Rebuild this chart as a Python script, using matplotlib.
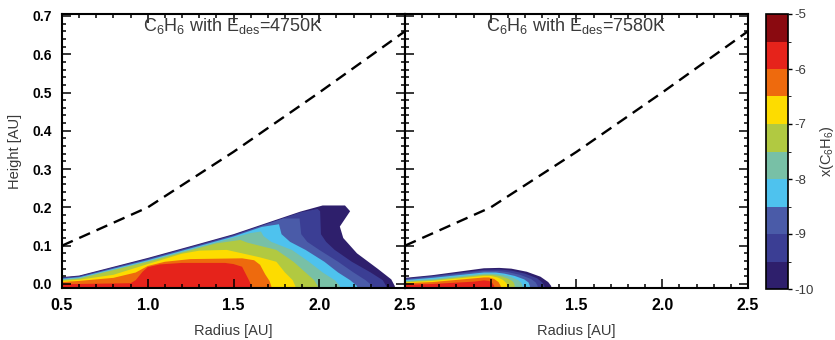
import matplotlib
matplotlib.use('Agg')
import matplotlib.pyplot as plt
from matplotlib.colors import ListedColormap, BoundaryNorm
from matplotlib.cm import ScalarMappable
from matplotlib.ticker import MultipleLocator

plt.rcParams['font.family'] = ['Liberation Sans', 'DejaVu Sans']
plt.rcParams['mathtext.fontset'] = 'custom'
plt.rcParams['mathtext.rm'] = 'Liberation Sans'
plt.rcParams['mathtext.it'] = 'Liberation Sans:italic'
plt.rcParams['axes.unicode_minus'] = False

# abundance levels log x(C6H6), one colour per band
levels = [-10, -9.5, -9, -8.5, -8, -7.5, -7, -6.5, -6, -5.5, -5]
band_colors = ['#2e1f6c', '#3b3e94', '#4a5ba8', '#4ec2ee', '#78c0a6',
               '#b1c941', '#fddc00', '#ee6a0d', '#e6231b', '#8a0a10']

# upper edge of region x >= level (radius, height), left panel E_des=4750K
left_r = [
    [0.5, 0.6, 1.0, 1.3, 1.5, 1.89, 2.02, 2.15, 2.18, 2.12, 2.14, 2.22, 2.34, 2.42, 2.44, 2.45],
    [0.5, 0.6, 1.0, 1.3, 1.5, 1.89, 1.99, 2.005, 2.01, 2.04, 2.09, 2.19, 2.3, 2.37, 2.39, 2.40],
    [0.5, 0.6, 1.0, 1.3, 1.5, 1.79, 1.885, 1.895, 1.93, 2.0, 2.11, 2.2, 2.27, 2.31, 2.32],
    [0.5, 0.6, 1.0, 1.3, 1.5, 1.665, 1.765, 1.78, 1.83, 1.92, 2.03, 2.11, 2.18, 2.22, 2.23],
    [0.5, 0.6, 1.0, 1.3, 1.5, 1.6, 1.66, 1.675, 1.72, 1.84, 1.94, 2.02, 2.09, 2.12, 2.13],
    [0.5, 0.6, 1.0, 1.3, 1.4, 1.54, 1.58, 1.75, 1.85, 1.92, 1.97, 1.99, 2.0],
    [0.5, 0.6, 0.8, 1.0, 1.2, 1.3, 1.46, 1.55, 1.65, 1.75, 1.8, 1.845, 1.86, 1.87],
    [0.5, 0.6, 0.8, 0.93, 1.0, 1.1, 1.25, 1.55, 1.62, 1.655, 1.685, 1.71, 1.72, 1.73],
    [0.5, 0.6, 0.9, 0.93, 0.97, 1.0, 1.07, 1.2, 1.45, 1.5, 1.55, 1.567, 1.59, 1.605, 1.61],
]
left_h = [
    [0.018, 0.022, 0.068, 0.105, 0.13, 0.189, 0.205, 0.205, 0.19, 0.15, 0.12, 0.08, 0.04, 0.012, -0.005, -0.03],
    [0.0165, 0.0205, 0.066, 0.103, 0.128, 0.187, 0.196, 0.19, 0.13, 0.11, 0.089, 0.058, 0.03, 0.01, -0.005, -0.03],
    [0.015, 0.019, 0.064, 0.101, 0.126, 0.171, 0.171, 0.13, 0.11, 0.089, 0.058, 0.03, 0.01, -0.005, -0.03],
    [0.0135, 0.0175, 0.062, 0.099, 0.124, 0.149, 0.156, 0.13, 0.11, 0.089, 0.058, 0.03, 0.01, -0.005, -0.03],
    [0.012, 0.016, 0.06, 0.097, 0.121, 0.133, 0.137, 0.125, 0.11, 0.089, 0.058, 0.03, 0.01, -0.005, -0.03],
    [0.010, 0.014, 0.058, 0.094, 0.106, 0.115, 0.108, 0.089, 0.058, 0.03, 0.01, -0.005, -0.03],
    [0.008, 0.011, 0.024, 0.052, 0.079, 0.087, 0.089, 0.08, 0.07, 0.058, 0.03, 0.01, -0.005, -0.03],
    [0.005, 0.008, 0.016, 0.03, 0.047, 0.058, 0.065, 0.067, 0.062, 0.05, 0.025, 0.008, -0.005, -0.03],
    [0.0, 0.0, 0.002, 0.01, 0.032, 0.044, 0.051, 0.055, 0.055, 0.052, 0.045, 0.03, 0.01, -0.005, -0.03],
]

# right panel E_des=7580K
right_r = [
    [0.5, 0.66, 0.96, 1.05, 1.12, 1.21, 1.29, 1.335, 1.352, 1.36],
    [0.5, 0.66, 0.96, 1.05, 1.12, 1.2, 1.27, 1.3, 1.313, 1.32],
    [0.5, 0.66, 0.96, 1.04, 1.1, 1.17, 1.235, 1.262, 1.273, 1.28],
    [0.5, 0.66, 0.96, 1.03, 1.08, 1.14, 1.195, 1.22, 1.228, 1.235],
    [0.5, 0.66, 0.96, 1.02, 1.07, 1.12, 1.16, 1.178, 1.185, 1.19],
    [0.5, 0.66, 0.96, 1.01, 1.06, 1.1, 1.125, 1.136, 1.14, 1.145],
    [0.5, 0.66, 0.96, 1.0, 1.04, 1.07, 1.09, 1.1, 1.105],
    [0.5, 0.66, 0.96, 0.99, 1.02, 1.045, 1.058, 1.065],
    [0.5, 0.66, 0.9, 0.96, 0.99, 1.01, 1.02, 1.025],
]
right_h = [
    [0.016, 0.023, 0.041, 0.042, 0.040, 0.032, 0.019, 0.005, -0.005, -0.03],
    [0.014, 0.021, 0.037, 0.038, 0.035, 0.027, 0.015, 0.004, -0.005, -0.03],
    [0.012, 0.019, 0.034, 0.034, 0.031, 0.024, 0.013, 0.004, -0.005, -0.03],
    [0.010, 0.016, 0.030, 0.030, 0.027, 0.021, 0.012, 0.004, -0.005, -0.03],
    [0.008, 0.013, 0.027, 0.027, 0.024, 0.018, 0.010, 0.003, -0.005, -0.03],
    [0.006, 0.010, 0.024, 0.024, 0.020, 0.014, 0.008, 0.002, -0.005, -0.03],
    [0.004, 0.008, 0.021, 0.021, 0.017, 0.011, 0.003, -0.005, -0.03],
    [0.002, 0.005, 0.017, 0.017, 0.013, 0.005, -0.005, -0.03],
    [-0.002, 0.0, 0.006, 0.0095, 0.008, 0.002, -0.005, -0.03],
]

# dashed surface line
surf_r = [0.5, 1.0, 1.5, 2.0, 2.5]
surf_h = [0.1, 0.2, 0.345, 0.5, 0.66]

titles = [r'C$_6$H$_6$ with E$_{\rm des}$=4750K', r'C$_6$H$_6$ with E$_{\rm des}$=7580K']
xticks = [0.5, 1.0, 1.5, 2.0, 2.5]
yticks = [0.0, 0.1, 0.2, 0.3, 0.4, 0.5, 0.6, 0.7]
cb_ticks = [-10, -9, -8, -7, -6, -5]

label_col = '#3a3a3a'

fig = plt.figure(figsize=(8.35, 3.4), dpi=100)
ax1 = fig.add_axes([62/835, 52/340, 343/835, 274/340])
ax2 = fig.add_axes([405/835, 52/340, 343/835, 274/340])
cax = fig.add_axes([766/835, 51/340, 22/835, 275/340])


def draw_panel(ax, rs, hs, title, xlabels):
    for k in range(len(rs)):
        xs = [0.4] + rs[k] + [0.4]
        ys = [hs[k][0]] + hs[k] + [-0.05]
        ax.fill(xs, ys, color=band_colors[k], lw=0)
    ax.plot(surf_r, surf_h, color='k', lw=1.7, ls=(0, (5, 3)))
    ax.set_xlim(0.5, 2.5)
    ax.set_ylim(-0.0105, 0.705)
    ax.set_xticks(xticks)
    ax.set_xticklabels(xlabels, fontweight='bold', fontsize=11.5)
    ax.xaxis.set_minor_locator(MultipleLocator(0.1))
    ax.yaxis.set_minor_locator(MultipleLocator(0.02))
    ax.tick_params(which='both', direction='in', top=True, right=True, width=1.1)
    ax.tick_params(which='major', length=6.5, pad=7)
    ax.tick_params(which='minor', length=3)
    for s in ax.spines.values():
        s.set_linewidth(1.5)
    ax.set_xlabel('Radius [AU]', fontsize=10.5, color=label_col, labelpad=8)
    ax.text(0.5, 0.937, title, transform=ax.transAxes, ha='center', va='baseline',
            fontsize=13, color=label_col)


labels_all = ['%.1f' % v for v in xticks]
draw_panel(ax1, left_r, left_h, titles[0], labels_all)
draw_panel(ax2, right_r, right_h, titles[1], [''] + labels_all[1:])

ax1.set_yticks(yticks)
ax1.set_yticklabels(['%.1f' % v for v in yticks], fontweight='bold', fontsize=10)
ax1.set_ylabel('Height [AU]', fontsize=10.5, color=label_col, labelpad=8)
ax2.set_yticks(yticks)
ax2.set_yticklabels([])

cmap = ListedColormap(band_colors)
norm = BoundaryNorm(levels, cmap.N)
cb = fig.colorbar(ScalarMappable(norm=norm, cmap=cmap), cax=cax, ticks=cb_ticks)
cb.ax.set_yticklabels(['%d' % v for v in cb_ticks], fontsize=9.5, color=label_col)
cb.ax.tick_params(length=3, width=1, direction='out', pad=1.5)
cb.outline.set_linewidth(1.2)
cb.set_label(r'x(C$_6$H$_6$)', fontsize=10.5, color=label_col, labelpad=3)

fig.savefig('out.png', dpi=100)
